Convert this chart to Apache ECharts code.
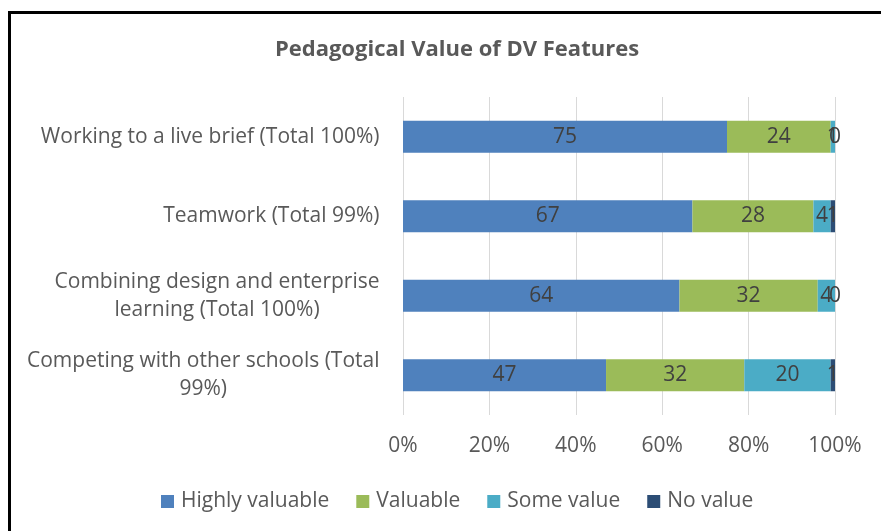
<!DOCTYPE html>
<html>
<head>
<meta charset="utf-8">
<script src="https://cdn.jsdelivr.net/npm/echarts@6/dist/echarts.min.js"></script>
<style>
html,body{margin:0;padding:0;background:#fff;}
#wrap{position:relative;width:881px;height:531px;overflow:hidden;}
#frame{position:absolute;left:8px;top:11px;right:-10px;bottom:-10px;border-left:3px solid #000;border-top:3px solid #000;pointer-events:none;z-index:2;}
#chart{position:absolute;left:0;top:0;width:881px;height:531px;}
</style>
</head>
<body>
<div id="wrap"><div id="chart"></div><div id="frame"></div></div>
<script>
const categories = [
  "Working to a live brief (Total 100%)",
  "Teamwork (Total 99%)",
  "Combining design and enterprise\nlearning (Total 100%)",
  "Competing with other schools (Total\n99%)"
];
const highlyValuable = [75, 67, 64, 47];
const valuable = [24, 28, 32, 32];
const someValue = [1, 4, 4, 20];
const noValue = [0, 1, 0, 1];
const xTicks = [0, 20, 40, 60, 80, 100];

const FONT = "'Open Sans', sans-serif";
const FS = 21;
const ctx = document.createElement('canvas').getContext('2d');
ctx.font = FS + 'px ' + FONT;
const rich = {};
categories.forEach((c, i) => {
  const lines = c.split('\n');
  const w = Math.max(...lines.map(l => ctx.measureText(l).width)) + 1;
  rich['l' + i] = {width: w, align: 'center', fontSize: FS, fontFamily: FONT, color: '#595959', lineHeight: 28};
});

const chart = echarts.init(document.getElementById('chart'));
const mk = (name, data, color) => ({
  name, type: 'bar', stack: 'total', data, barWidth: 32,
  itemStyle: {color},
  label: {show: true, position: 'inside', color: '#404040', fontSize: FS, fontFamily: FONT},
  emphasis: {disabled: true}
});
chart.setOption({
  animation: false,
  textStyle: {fontFamily: FONT},
  title: {
    text: 'Pedagogical Value of DV Features', left: 452, top: 34, textAlign: 'center',
    textStyle: {fontSize: 22, fontWeight: 'bold', color: '#595959', fontFamily: FONT}
  },
  legend: {
    bottom: 14, left: 156, itemWidth: 13, itemHeight: 13, itemGap: 27, itemStyle: {borderWidth: 0},
    textStyle: {fontSize: FS, color: '#595959', fontFamily: FONT, padding: [0, 0, 0, 2]},
    data: [
      {name: 'Highly valuable', icon: 'rect'},
      {name: 'Valuable', icon: 'rect'},
      {name: 'Some value', icon: 'rect'},
      {name: 'No value', icon: 'rect'}
    ]
  },
  grid: {left: 403, right: 46, top: 97, bottom: 116, containLabel: false},
  xAxis: {
    type: 'value', min: 0, max: 100, interval: 20,
    axisLine: {show: false}, axisTick: {show: false},
    splitLine: {lineStyle: {color: '#D9D9D9', width: 1}},
    axisLabel: {formatter: v => xTicks.includes(v) ? v + '%' : '', fontSize: FS, color: '#595959', fontFamily: FONT, margin: 21}
  },
  yAxis: {
    type: 'category', data: categories, inverse: true,
    axisLine: {show: false}, axisTick: {show: false},
    axisLabel: {
      margin: 23, align: 'right',
      formatter: (v, i) => v.split('\n').map(l => '{l' + i + '|' + l + '}').join('\n'),
      rich
    }
  },
  series: [
    mk('Highly valuable', highlyValuable, '#4F81BD'),
    mk('Valuable', valuable, '#9BBB59'),
    mk('Some value', someValue, '#4BACC6'),
    mk('No value', noValue, '#2C4D75')
  ]
});
</script>
</body>
</html>
